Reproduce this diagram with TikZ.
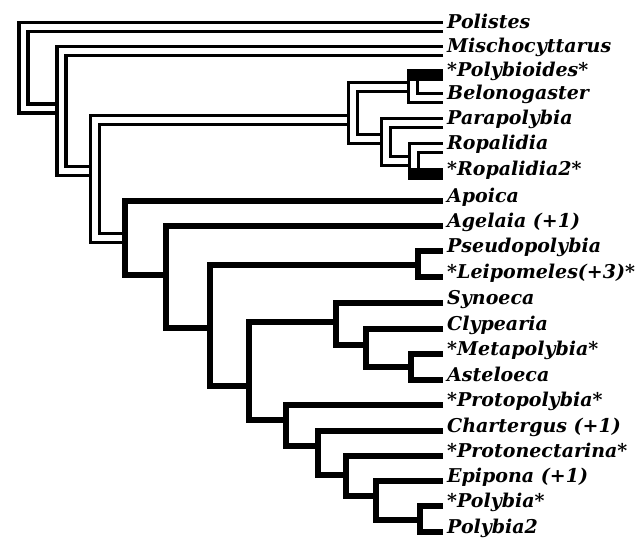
\documentclass[tikz,border=0pt]{standalone}
\usepackage{fontspec}
\setmainfont{DejaVu Serif}
\usetikzlibrary{calc}
\begin{document}
\begin{tikzpicture}[x=1pt,y=-1pt,
  dbl/.style={line width=3.2pt, double=white, double distance=5.8pt, line join=miter},
  thk/.style={line width=6pt, line join=miter},
  taxon/.style={anchor=base west, inner sep=0pt, font=\fontsize{19}{19}\selectfont\bfseries\itshape}]
\useasboundingbox (0,0) rectangle (644,541);
% terminal line ends
\coordinate (e0) at (443,27);
\coordinate (e1) at (443,51);
\coordinate (e2) at (443,75);
\coordinate (e3) at (443,98);
\coordinate (e4) at (443,123);
\coordinate (e5) at (443,148);
\coordinate (e6) at (443,174);
\coordinate (e7) at (443,201);
\coordinate (e8) at (443,226);
\coordinate (e9) at (443,251);
\coordinate (e10) at (443,277);
\coordinate (e11) at (443,303);
\coordinate (e12) at (443,329);
\coordinate (e13) at (443,354);
\coordinate (e14) at (443,380);
\coordinate (e15) at (443,405);
\coordinate (e16) at (443,431);
\coordinate (e17) at (443,456);
\coordinate (e18) at (443,481);
\coordinate (e19) at (443,506);
\coordinate (e20) at (443,532);
% internal nodes
\coordinate (root) at (23.5,67);
\coordinate (n2) at (61.5,108.5);
\coordinate (n3) at (95,171);
\coordinate (P) at (353,120);
\coordinate (PB) at (413,87);
\coordinate (PR) at (386,139);
\coordinate (R) at (414,161);
\coordinate (A) at (125,238);
\coordinate (B) at (166,275);
\coordinate (C) at (210,328);
\coordinate (PL) at (418,265);
\coordinate (D) at (249,386);
\coordinate (S) at (336,322);
\coordinate (CL) at (366,345);
\coordinate (MA) at (411,367);
\coordinate (E) at (286,420);
\coordinate (F) at (318,446);
\coordinate (G) at (346,475);
\coordinate (H) at (376,496);
\coordinate (I) at (420,520);
% double-line part
\draw[dbl] (e0) -| (root) |- (n2);
\draw[dbl] (e1) -| (n2) |- (n3);
\draw[dbl] (P) -| (n3) |- (A);
\draw[dbl] (PB) -| (P) |- (PR);
\draw[dbl] (e2) -| (PB) |- (e3);
\draw[dbl] (e4) -| (PR) |- (R);
\draw[dbl] (e5) -| (R) |- (e6);
\fill ($(PB |- e2)+(-6.1,-6.1)$) rectangle ($(e2)+(0,6.1)$);
\fill ($(R |- e6)+(-6.1,-6.1)$) rectangle ($(e6)+(0,6.1)$);
% thick part
\draw[thk] (e7) -| (A) |- (B);
\draw[thk] (e8) -| (B) |- (C);
\draw[thk] (PL) -| (C) |- (D);
\draw[thk] (e9) -| (PL) |- (e10);
\draw[thk] (S) -| (D) |- (E);
\draw[thk] (e11) -| (S) |- (CL);
\draw[thk] (e12) -| (CL) |- (MA);
\draw[thk] (e13) -| (MA) |- (e14);
\draw[thk] (e15) -| (E) |- (F);
\draw[thk] (e16) -| (F) |- (G);
\draw[thk] (e17) -| (G) |- (H);
\draw[thk] (e18) -| (H) |- (I);
\draw[thk] (e19) -| (I) |- (e20);
% labels
\node[taxon] (l0) at ($(e0)+(4,1)$) {Polistes};
\node[taxon] (l1) at ($(e1)+(4,1)$) {Mischocyttarus};
\node[taxon] (l2) at ($(e2)+(4,1)$) {*Polybioides*};
\node[taxon] (l3) at ($(e3)+(4,1)$) {Belonogaster};
\node[taxon] (l4) at ($(e4)+(4,1)$) {Parapolybia};
\node[taxon] (l5) at ($(e5)+(4,1)$) {Ropalidia};
\node[taxon] (l6) at ($(e6)+(4,1)$) {*Ropalidia2*};
\node[taxon] (l7) at ($(e7)+(4,1)$) {Apoica};
\node[taxon] (l8) at ($(e8)+(4,1)$) {Agelaia (+1)};
\node[taxon] (l9) at ($(e9)+(4,1)$) {Pseudopolybia};
\node[taxon] (l10) at ($(e10)+(4,1)$) {*Leipomeles(+3)*};
\node[taxon] (l11) at ($(e11)+(4,1)$) {Synoeca};
\node[taxon] (l12) at ($(e12)+(4,1)$) {Clypearia};
\node[taxon] (l13) at ($(e13)+(4,1)$) {*Metapolybia*};
\node[taxon] (l14) at ($(e14)+(4,1)$) {Asteloeca};
\node[taxon] (l15) at ($(e15)+(4,1)$) {*Protopolybia*};
\node[taxon] (l16) at ($(e16)+(4,1)$) {Chartergus (+1)};
\node[taxon] (l17) at ($(e17)+(4,1)$) {*Protonectarina*};
\node[taxon] (l18) at ($(e18)+(4,1)$) {Epipona (+1)};
\node[taxon] (l19) at ($(e19)+(4,1)$) {*Polybia*};
\node[taxon] (l20) at ($(e20)+(4,1)$) {Polybia2};
\end{tikzpicture}
\end{document}
